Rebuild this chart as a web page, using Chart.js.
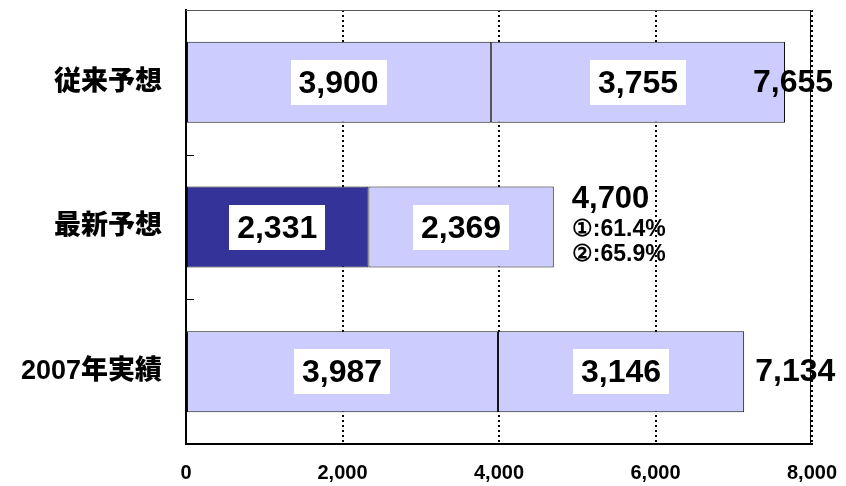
<!DOCTYPE html>
<html><head><meta charset="utf-8">
<script src="https://cdn.jsdelivr.net/npm/chart.js@4.4.1/dist/chart.umd.min.js"></script>
<style>html,body{margin:0;padding:0;background:#fff}#wrap{width:846px;height:486px}</style>
</head><body><div id="wrap"><canvas id="c" width="846" height="486"></canvas></div>
<script>
const categories = ['従来予想', '最新予想', '2007年実績'];
const firstHalf = [3900, 2331, 3987];
const secondHalf = [3755, 2369, 3146];
const totalLabels = ['7,655', '4,700', '7,134'];
const totalValues = [7655, 4700, 7134];
const noteLines = [[], ['①:61.4%', '②:65.9%'], []];
const xTicks = [0, 2000, 4000, 6000, 8000];

const LIGHT = '#CCCCFF', DARK = '#333399';
const firstColors = [LIGHT, DARK, LIGHT];
const totalOffsets = [-32, 18, 11];
const NUMFONT = '"Liberation Sans", Arial, sans-serif';

const fmt = v => v.toLocaleString('en-US');

const decor = {
  id: 'decor',
  beforeDatasetsDraw(chart) {
    const ctx = chart.ctx, a = chart.chartArea, y = chart.scales.y;
    ctx.save();
    ctx.strokeStyle = '#555'; ctx.lineWidth = 1;
    ctx.beginPath(); ctx.moveTo(a.left, a.top + 0.5); ctx.lineTo(a.right, a.top + 0.5); ctx.stroke();
    ctx.strokeStyle = '#000'; ctx.lineWidth = 1;
    ctx.beginPath(); ctx.moveTo(a.right - 1.5, a.top); ctx.lineTo(a.right - 1.5, a.bottom); ctx.stroke();
    for (let i = 0; i < categories.length - 1; i++) {
      const py = Math.round((y.getPixelForValue(i) + y.getPixelForValue(i + 1)) / 2) + 0.5;
      ctx.beginPath(); ctx.moveTo(a.left, py); ctx.lineTo(a.left + 8, py); ctx.stroke();
    }
    ctx.restore();
  },
  afterDatasetsDraw(chart) {
    const ctx = chart.ctx, x = chart.scales.x, y = chart.scales.y;
    ctx.save();
    ctx.font = 'bold 32px ' + NUMFONT;
    ctx.textAlign = 'center'; ctx.textBaseline = 'middle';
    chart.data.datasets.forEach((ds, di) => {
      const meta = chart.getDatasetMeta(di);
      meta.data.forEach((bar, i) => {
        const start = di === 0 ? 0 : firstHalf[i];
        const end = start + ds.data[i];
        const cx = (x.getPixelForValue(start) + x.getPixelForValue(end)) / 2;
        const cy = bar.y;
        const txt = fmt(ds.data[i]);
        const w = ctx.measureText(txt).width + 16;
        const h = 45;
        ctx.fillStyle = '#fff';
        ctx.fillRect(Math.round(cx - w / 2), Math.round(cy - h / 2), Math.round(w), h);
        ctx.fillStyle = '#000';
        ctx.fillText(txt, cx, cy + 2);
      });
    });
    ctx.textAlign = 'left';
    totalValues.forEach((t, i) => {
      const bx = x.getPixelForValue(t) + totalOffsets[i];
      const cy = y.getPixelForValue(i);
      ctx.fillStyle = '#000';
      if (noteLines[i].length) {
        ctx.font = 'bold 31px ' + NUMFONT;
        ctx.fillText(totalLabels[i], bx, cy - 28);
        ctx.font = 'bold 23px ' + NUMFONT;
        noteLines[i].forEach((ln, k) => ctx.fillText(ln, bx, cy + 3 + k * 25));
      } else {
        ctx.font = 'bold 32px ' + NUMFONT;
        ctx.fillText(totalLabels[i], bx, cy + 1);
      }
    });
    ctx.restore();
  }
};

new Chart(document.getElementById('c'), {
  type: 'bar',
  data: {
    labels: categories,
    datasets: [
      { data: firstHalf, backgroundColor: firstColors, borderColor: '#111', borderWidth: 1, borderSkipped: false },
      { data: secondHalf, backgroundColor: LIGHT, borderColor: '#111', borderWidth: 1, borderSkipped: false }
    ]
  },
  options: {
    indexAxis: 'y',
    responsive: false,
    animation: false,
    devicePixelRatio: 1,
    layout: { padding: { top: 10, right: 34, left: 0, bottom: 0 } },
    plugins: { legend: { display: false }, tooltip: { enabled: false } },
    datasets: { bar: { categoryPercentage: 1, barPercentage: 0.56 } },
    scales: {
      x: {
        stacked: true, min: 0, max: 8000,
        afterBuildTicks: s => { s.ticks = xTicks.map(v => ({ value: v })); },
        afterFit: s => { s.height = 42; s.paddingLeft = 0; s.paddingRight = 0; s.paddingTop = 0; s.paddingBottom = 0; },
        ticks: {
          callback: v => fmt(v), color: '#000', padding: 17, maxRotation: 0,
          font: { family: NUMFONT, size: 20, weight: 'bold' }
        },
        grid: {
          drawTicks: false, lineWidth: 2,
          color: c => (c.tick && c.tick.value === 0) ? 'rgba(0,0,0,0)' : '#000'
        },
        border: { display: true, color: '#000', width: 2, dash: [2, 3] }
      },
      y: {
        stacked: true,
        afterFit: s => { s.width = 186; s.paddingTop = 0; s.paddingBottom = 0; s.paddingLeft = 0; s.paddingRight = 0; },
        ticks: {
          color: '#000', padding: 24,
          font: { family: '"Liberation Sans", "Noto Sans CJK JP", sans-serif', size: 27, weight: '900' }
        },
        grid: { display: false, drawTicks: false },
        border: { display: true, color: '#000', width: 2 }
      }
    }
  },
  plugins: [decor]
});
</script>
</body></html>
